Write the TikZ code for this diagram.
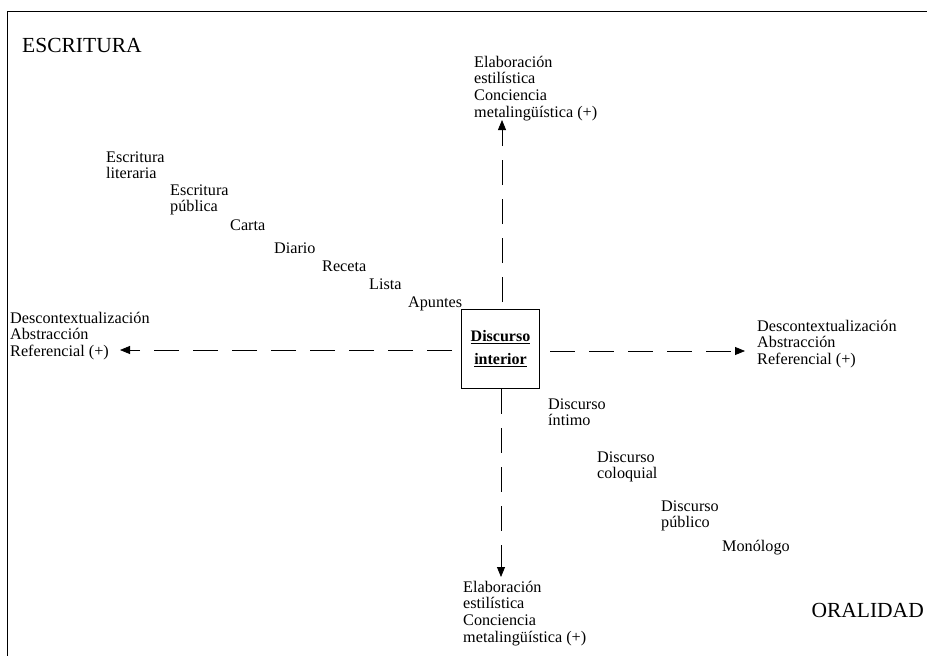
\documentclass[tikz,border=0pt]{standalone}
\usepackage{fontspec}
\setmainfont{Liberation Serif}
\usetikzlibrary{arrows.meta}
\begin{document}
\begin{tikzpicture}[x=1pt,y=-1pt,
  lbl/.style={anchor=base west,inner sep=0pt,align=left,font=\fontsize{16.2}{16.8}\selectfont},
  big/.style={anchor=base west,inner sep=0pt,font=\fontsize{21.5}{24}\selectfont},
  axis/.style={draw,line width=0.8pt,dash pattern=on 25pt off 14pt,-{Triangle[length=10pt,width=8pt]}}]
\useasboundingbox (0,0) rectangle (927,656);
\draw[line width=1pt] (7,660) -- (7,11) -- (930,11);
\node[big] (escr) at (22,52) {ESCRITURA};
\node[big,anchor=base east] (oral) at (924,617) {ORALIDAD};
\node[draw,line width=0.8pt,minimum width=78pt,minimum height=79pt,inner sep=0pt,align=center,
  font=\fontsize{16}{23}\selectfont\bfseries] (box) at (500.5,348.5)
  {\underline{Discurso}\\\underline{interior}};
\node[lbl] (top) at (474,117.4) {Elaboración\\estilística\\Conciencia\\metalingüística (+)};
\node[lbl] (bot) at (463,642.4) {Elaboración\\estilística\\Conciencia\\metalingüística (+)};
\node[lbl] (left) at (10,356.6) {Descontextualización\\Abstracción\\Referencial (+)};
\node[lbl] (right) at (757,364.6) {Descontextualización\\Abstracción\\Referencial (+)};
\coordinate (tupt) at (502,120);
\coordinate (tdn) at (501,577);
\coordinate (tl) at (120,350);
\coordinate (tr) at (745,351);
\draw[axis] (502,302) -- (tupt);
\draw[axis] (501,389) -- (tdn);
\draw[axis] (452,350) -- (tl);
\draw[axis] (550,351) -- (tr);
\node[lbl] (lit) at (106,178.8) {Escritura\\literaria};
\node[lbl] (pub) at (170,211.8) {Escritura\\pública};
\node[lbl] (carta) at (230,230) {Carta};
\node[lbl] (diario) at (274,253) {Diario};
\node[lbl] (receta) at (322,271) {Receta};
\node[lbl] (lista) at (369,289) {Lista};
\node[lbl] (apun) at (408,307) {Apuntes};
\node[lbl] (intimo) at (548,425.8) {Discurso\\íntimo};
\node[lbl] (colo) at (597,478.8) {Discurso\\coloquial};
\node[lbl] (dpub) at (661,527.8) {Discurso\\público};
\node[lbl] (mono) at (722,551) {Monólogo};
\end{tikzpicture}
\end{document}
